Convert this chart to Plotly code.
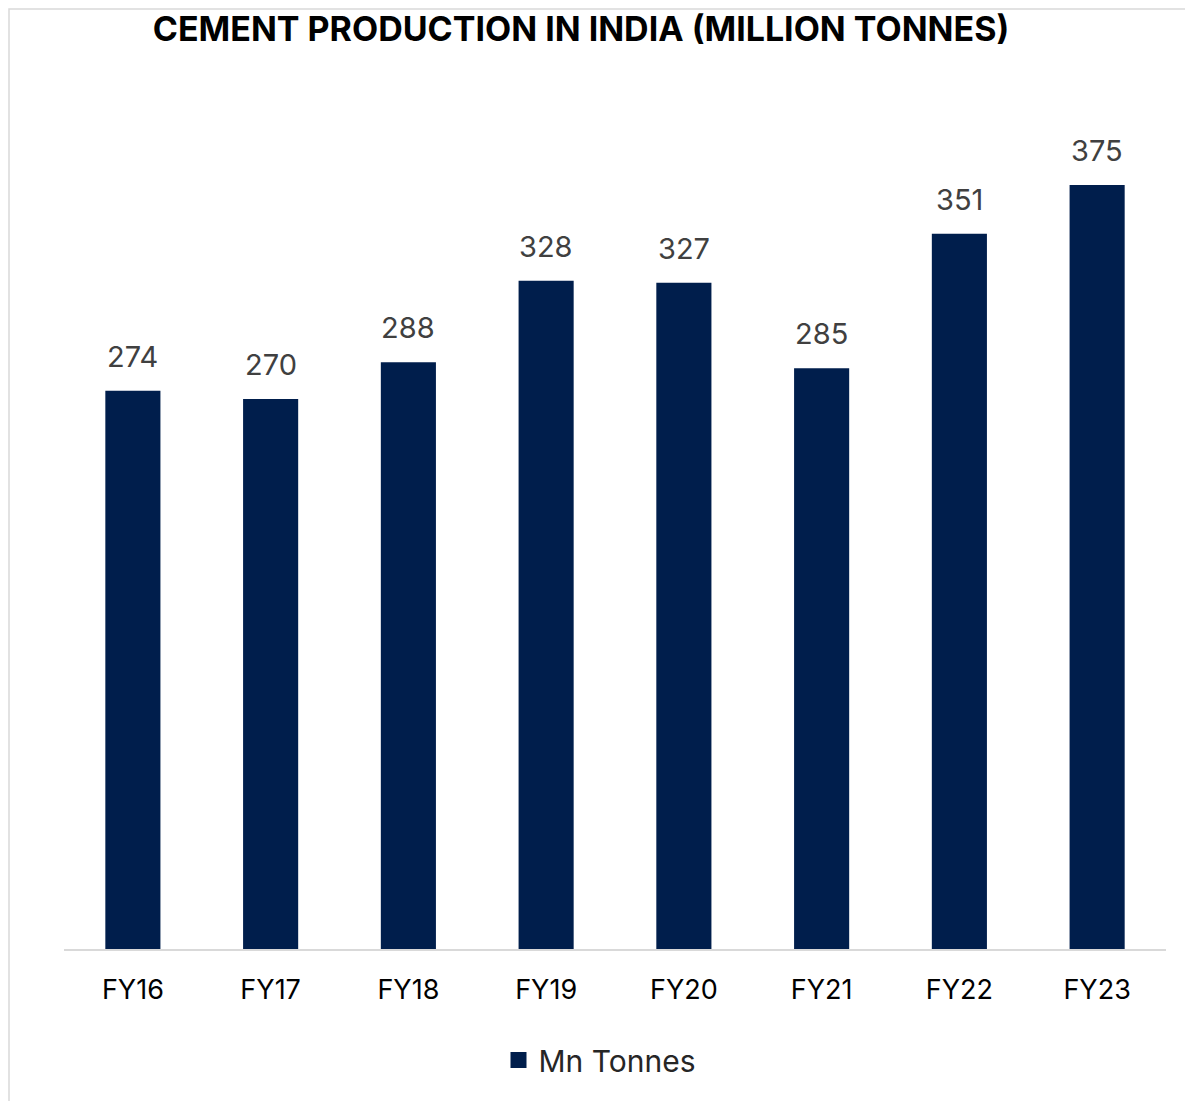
import plotly.graph_objects as go

# Cement production in India, million tonnes
years = ["FY16", "FY17", "FY18", "FY19", "FY20", "FY21", "FY22", "FY23"]
production = [274, 270, 288, 328, 327, 285, 351, 375]

BAR_COLOR = "#001E4C"
FONT = "Inter"

# page is drawn with an 8px body margin, so the figure is a bit smaller
W, H = 1185, 1093
ML, MR, MT, MB = 56, 27, 126, 152
pw, ph = W - ML - MR, H - MT - MB

fig = go.Figure()
fig.add_trace(go.Bar(
    x=years,
    y=production,
    name="Mn Tonnes",
    marker=dict(color=BAR_COLOR, line=dict(width=0)),
    width=0.4,
    showlegend=False,
))
# legend entry with a larger square marker
fig.add_trace(go.Scatter(
    x=[None], y=[None], mode="markers", name="Mn Tonnes",
    marker=dict(symbol="square", size=17, color=BAR_COLOR),
))

# value labels above each bar
for yr, val in zip(years, production):
    fig.add_annotation(
        x=yr, y=val, text=str(val), showarrow=False,
        yanchor="bottom", yshift=15,
        font=dict(family=FONT, size=29, color="#404040"),
    )

# light grey frame around the whole chart
fig.add_shape(
    type="rect", xref="paper", yref="paper",
    x0=(1 - ML) / pw, x1=(W + 5 - ML) / pw,
    y0=-(H + 5 - MT - ph) / ph, y1=(MT - 1) / ph + 1,
    line=dict(color="#D9D9D9", width=1.5), layer="below",
)

fig.update_layout(
    width=W, height=H,
    margin=dict(l=ML, r=MR, t=MT, b=MB),
    paper_bgcolor="white",
    plot_bgcolor="white",
    title=dict(
        text="<b>CEMENT PRODUCTION IN INDIA (MILLION TONNES)</b>",
        x=573 / W, xanchor="center",
        y=1 - 21 / H, yanchor="middle",
        font=dict(family=FONT, size=34, color="black"),
    ),
    showlegend=True,
    legend=dict(
        orientation="h",
        x=(592 - ML) / pw, xanchor="center",
        y=-(1052 - MT - ph) / ph, yanchor="middle",
        font=dict(family=FONT, size=30, color="#262626"),
        itemsizing="trace",
    ),
    bargap=0.6,
)

fig.update_xaxes(
    showline=True, linecolor="#D9D9D9", linewidth=2,
    ticks="", showgrid=False,
    tickfont=dict(family=FONT, size=27, color="black"),
    ticklabelstandoff=16,
)
fig.update_yaxes(
    range=[0, 400], visible=False, showgrid=False,
)

fig.write_html("out.html")
